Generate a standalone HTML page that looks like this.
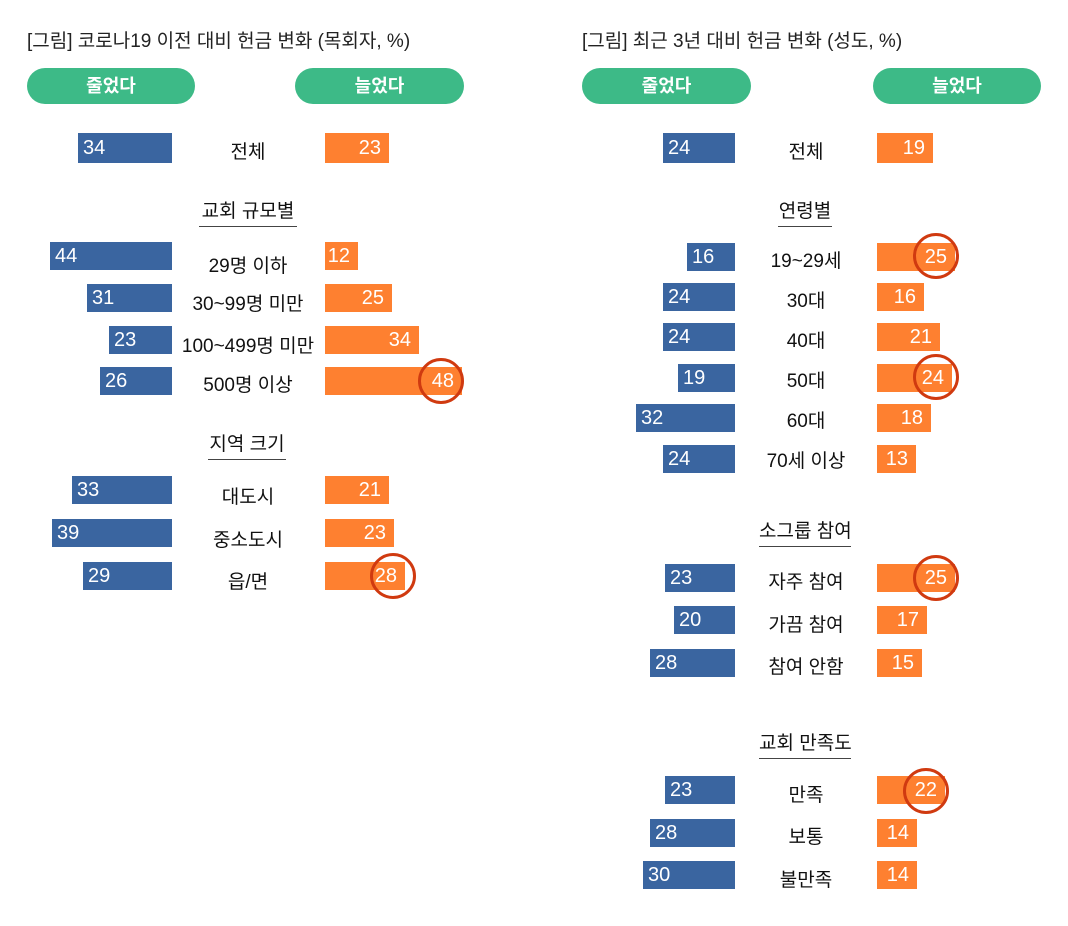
<!DOCTYPE html><html><head><meta charset="utf-8"><style>
body{margin:0;width:1068px;height:926px;background:#fff;position:relative;font-family:"Liberation Sans","Noto Sans CJK KR",sans-serif;overflow:hidden}
div{position:absolute;box-sizing:border-box}
.t{font-size:19px;color:#222;top:26px;white-space:nowrap}
.p{background:#3dba87;color:#fff;border-radius:18px;height:36px;top:68px;font-size:18px;text-align:center;line-height:36px;font-weight:bold}
.b{background:#3a65a0;color:#fff;font-size:20px;padding-left:5px;line-height:28px}
.o{background:#fe8030;color:#fff;font-size:20px;text-align:right;padding-right:8px;line-height:28px}
.l{font-size:19px;color:#111;text-align:center;width:160px;white-space:nowrap}
.h{font-size:19px;color:#111;text-align:center;white-space:nowrap;border-bottom:1.5px solid #444;padding-bottom:3px}
.c{width:46px;height:46px;border:3px solid #d03a10;border-radius:50%}
</style></head><body>
<div class="t" style="left:27px">[그림] 코로나19 이전 대비 헌금 변화 (목회자, %)</div>
<div class="t" style="left:582px">[그림] 최근 3년 대비 헌금 변화 (성도, %)</div>
<div class="p" style="left:27px;width:168px">줄었다</div>
<div class="p" style="left:295px;width:169px">늘었다</div>
<div class="p" style="left:582px;width:169px">줄었다</div>
<div class="p" style="left:873px;width:168px">늘었다</div>

<div class="b" style="left:78px;width:94px;top:133px;height:30px;line-height:30px">34</div><div class="l" style="left:168px;top:137px">전체</div><div class="o" style="left:325px;width:64px;top:133px;height:30px;line-height:30px">23</div>
<div class="h" style="left:199px;top:196px;width:98px">교회 규모별</div>
<div class="b" style="left:50px;width:122px;top:242px;height:28px">44</div><div class="l" style="left:168px;top:251px">29명 이하</div><div class="o" style="left:325px;width:33px;top:242px;height:28px">12</div>
<div class="b" style="left:87px;width:85px;top:284px;height:28px">31</div><div class="l" style="left:168px;top:289px">30~99명 미만</div><div class="o" style="left:325px;width:67px;top:284px;height:28px">25</div>
<div class="b" style="left:109px;width:63px;top:326px;height:28px">23</div><div class="l" style="left:168px;top:331px">100~499명 미만</div><div class="o" style="left:325px;width:94px;top:326px;height:28px">34</div>
<div class="b" style="left:100px;width:72px;top:367px;height:28px">26</div><div class="l" style="left:168px;top:370px">500명 이상</div><div class="o" style="left:325px;width:137px;top:367px;height:28px">48</div>
<div class="h" style="left:208px;top:429px;width:78px">지역 크기</div>
<div class="b" style="left:72px;width:100px;top:476px;height:28px">33</div><div class="l" style="left:168px;top:482px">대도시</div><div class="o" style="left:325px;width:64px;top:476px;height:28px">21</div>
<div class="b" style="left:52px;width:120px;top:519px;height:28px">39</div><div class="l" style="left:168px;top:525px">중소도시</div><div class="o" style="left:325px;width:69px;top:519px;height:28px">23</div>
<div class="b" style="left:83px;width:89px;top:562px;height:28px">29</div><div class="l" style="left:168px;top:567px">읍/면</div><div class="o" style="left:325px;width:80px;top:562px;height:28px">28</div>
<div class="c" style="left:418px;top:358px"></div>
<div class="c" style="left:370px;top:553px"></div>

<div class="b" style="left:663px;width:72px;top:133px;height:30px;line-height:30px">24</div><div class="l" style="left:726px;top:137px">전체</div><div class="o" style="left:877px;width:56px;top:133px;height:30px;line-height:30px">19</div>
<div class="h" style="left:778px;top:196px;width:54px">연령별</div>
<div class="b" style="left:687px;width:48px;top:243px;height:28px">16</div><div class="l" style="left:726px;top:246px">19~29세</div><div class="o" style="left:877px;width:78px;top:243px;height:28px">25</div>
<div class="b" style="left:663px;width:72px;top:283px;height:28px">24</div><div class="l" style="left:726px;top:286px">30대</div><div class="o" style="left:877px;width:47px;top:283px;height:28px">16</div>
<div class="b" style="left:663px;width:72px;top:323px;height:28px">24</div><div class="l" style="left:726px;top:326px">40대</div><div class="o" style="left:877px;width:63px;top:323px;height:28px">21</div>
<div class="b" style="left:678px;width:57px;top:364px;height:28px">19</div><div class="l" style="left:726px;top:366px">50대</div><div class="o" style="left:877px;width:75px;top:364px;height:28px">24</div>
<div class="b" style="left:636px;width:99px;top:404px;height:28px">32</div><div class="l" style="left:726px;top:406px">60대</div><div class="o" style="left:877px;width:54px;top:404px;height:28px">18</div>
<div class="b" style="left:663px;width:72px;top:445px;height:28px">24</div><div class="l" style="left:726px;top:446px">70세 이상</div><div class="o" style="left:877px;width:39px;top:445px;height:28px">13</div>
<div class="h" style="left:759px;top:516px;width:92px">소그룹 참여</div>
<div class="b" style="left:665px;width:70px;top:564px;height:28px">23</div><div class="l" style="left:726px;top:567px">자주 참여</div><div class="o" style="left:877px;width:78px;top:564px;height:28px">25</div>
<div class="b" style="left:674px;width:61px;top:606px;height:28px">20</div><div class="l" style="left:726px;top:610px">가끔 참여</div><div class="o" style="left:877px;width:50px;top:606px;height:28px">17</div>
<div class="b" style="left:650px;width:85px;top:649px;height:28px">28</div><div class="l" style="left:726px;top:652px">참여 안함</div><div class="o" style="left:877px;width:45px;top:649px;height:28px">15</div>
<div class="h" style="left:759px;top:728px;width:92px">교회 만족도</div>
<div class="b" style="left:665px;width:70px;top:776px;height:28px">23</div><div class="l" style="left:726px;top:780px">만족</div><div class="o" style="left:877px;width:68px;top:776px;height:28px">22</div>
<div class="b" style="left:650px;width:85px;top:819px;height:28px">28</div><div class="l" style="left:726px;top:822px">보통</div><div class="o" style="left:877px;width:40px;top:819px;height:28px">14</div>
<div class="b" style="left:643px;width:92px;top:861px;height:28px">30</div><div class="l" style="left:726px;top:865px">불만족</div><div class="o" style="left:877px;width:40px;top:861px;height:28px">14</div>
<div class="c" style="left:913px;top:233px"></div>
<div class="c" style="left:913px;top:354px"></div>
<div class="c" style="left:913px;top:555px"></div>
<div class="c" style="left:903px;top:768px"></div>
</body></html>
